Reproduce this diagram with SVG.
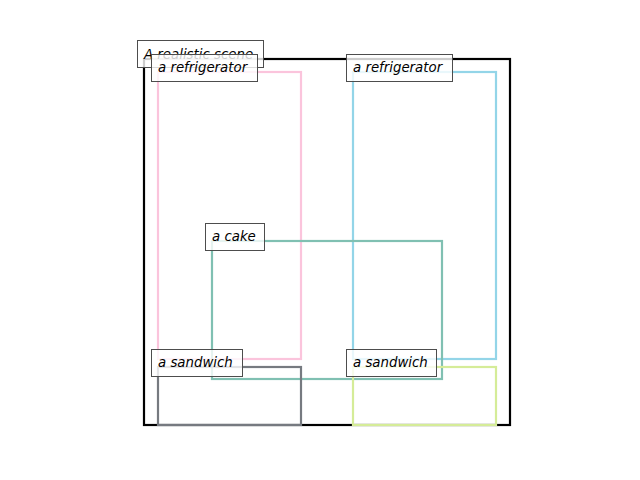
<svg xmlns="http://www.w3.org/2000/svg" width="640" height="480" viewBox="0 0 640 480">
<style>
.box{fill:none;stroke-width:2.2}
.lbl{fill:#ffffff;fill-opacity:0.8;stroke:#4d4d4d;stroke-width:1}
text{font-family:"DejaVu Sans","Liberation Sans",sans-serif;font-style:italic;font-size:13.33px;fill:#000}
</style>
<rect width="640" height="480" fill="#ffffff"/>
<g id="scene">
<rect x="144" y="59" width="366" height="366" fill="none" stroke="#000" stroke-width="2.2"/>
<rect class="lbl" x="137.5" y="40.5" width="126" height="27"/>
<text x="144" y="59">A realistic scene</text>
</g>
<g id="refrigerator1">
<rect class="box" stroke="#fbc4dc" x="158" y="72" width="143" height="287"/>
<rect class="lbl" x="151.5" y="54.5" width="106" height="27"/>
<text x="158" y="72">a refrigerator</text>
</g>
<g id="refrigerator2">
<rect class="box" stroke="#93d5e8" x="353" y="72" width="143" height="287"/>
<rect class="lbl" x="346.5" y="54.5" width="106" height="27"/>
<text x="353" y="72">a refrigerator</text>
</g>
<g id="cake">
<rect class="box" stroke="#80c0b2" x="212" y="241" width="230" height="138"/>
<rect class="lbl" x="205.5" y="223.5" width="59" height="27"/>
<text x="212" y="241">a cake</text>
</g>
<g id="sandwich1">
<rect class="box" stroke="#767a80" x="158" y="367" width="143" height="58"/>
<rect class="lbl" x="151.5" y="349.5" width="91" height="27"/>
<text x="158" y="367">a sandwich</text>
</g>
<g id="sandwich2">
<rect class="box" stroke="#d5ec98" x="353" y="367" width="143" height="58"/>
<rect class="lbl" x="346.5" y="349.5" width="90" height="27"/>
<text x="353" y="367">a sandwich</text>
</g>
<g id="connectors"/>
</svg>
